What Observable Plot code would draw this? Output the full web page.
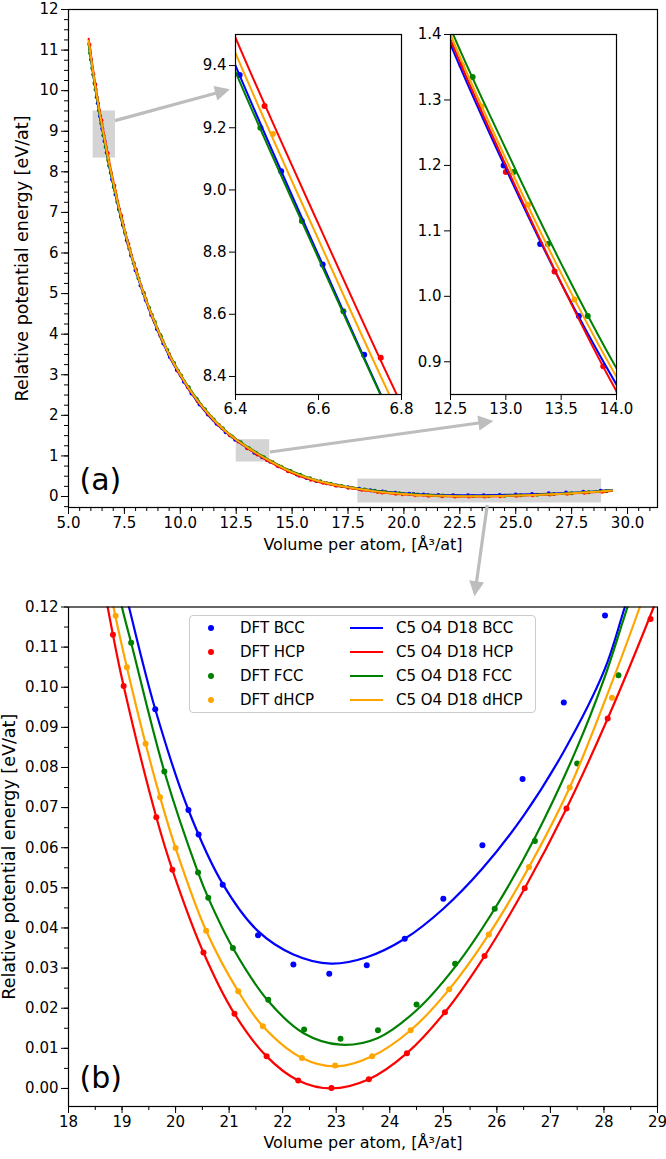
<!DOCTYPE html>
<html><head><meta charset="utf-8">
<script src="https://cdn.jsdelivr.net/npm/d3@7"></script>
<script src="https://cdn.jsdelivr.net/npm/@observablehq/plot@0.6"></script>
<style>
body{margin:0;background:#fff;}
#wrap{position:relative;width:666px;height:1159px;overflow:hidden;background:#fff;font-family:"DejaVu Sans",sans-serif;}
.lg{position:absolute;left:189px;top:615px;width:345px;height:96px;border:1px solid #cccccc;border-radius:4px;background:rgba(255,255,255,0.8);font-size:15px;color:#000;}
.lg span{position:absolute;white-space:nowrap;}
</style></head><body><div id="wrap"></div>
<script>
// ---------- data ----------
const structures = ["BCC", "HCP", "FCC", "dHCP"];
const colors = ["blue", "red", "green", "orange"];

// DFT points: volume per atom [Å^3/at] and relative energy [eV/at]
const bccV = [6.01,6.11,6.21,6.31,6.41,6.51,6.61,6.71,6.82,6.95,7.10,7.26,7.43,7.61,7.80,8.00,8.22,8.45,8.70,8.96,9.24,9.53,9.84,10.16,10.50,10.86,11.23,11.62,12.03,12.45,12.98,13.31,13.66,14.02,14.40,14.80,15.21,15.64,16.08,16.54,17.01,17.50,18.00,18.50,19.05,19.62,20.24,20.43,20.88,21.54,22.20,22.87,23.57,24.28,25.00,25.73,26.48,27.25,28.02,28.80];
const bccE = [10.76,10.40,10.03,9.69,9.37,9.06,8.76,8.47,8.15,7.81,7.44,7.07,6.69,6.31,5.94,5.57,5.20,4.84,4.47,4.12,3.77,3.44,3.12,2.83,2.54,2.27,2.02,1.79,1.585,1.40,1.20,1.08,0.97,0.855,0.745,0.64,0.54,0.455,0.385,0.325,0.27,0.225,0.188,0.155,0.124,0.0945,0.0694,0.0633,0.0508,0.0382,0.0309,0.0286,0.0307,0.0373,0.0473,0.0606,0.0771,0.0962,0.1179,0.141];
const hcpV = [5.94,6.20,6.47,6.75,7.05,7.36,7.68,8.01,8.36,8.72,9.10,9.49,9.90,10.33,10.78,11.24,11.72,12.21,12.60,13.00,13.44,13.88,14.34,14.82,15.32,15.84,16.38,16.94,17.52,18.12,18.83,19.03,19.64,19.94,20.52,21.10,21.70,22.29,22.91,23.61,24.32,25.03,25.77,26.52,27.30,28.07,28.87];
const hcpE = [11.13,10.15,9.27,8.46,7.66,6.92,6.22,5.60,5.02,4.48,3.98,3.51,3.09,2.70,2.35,2.03,1.76,1.51,1.353,1.19,1.038,0.893,0.76,0.625,0.51,0.415,0.34,0.272,0.215,0.165,0.1131,0.1003,0.0676,0.0545,0.0339,0.0186,0.0080,0.0020,0.0001,0.0023,0.0088,0.0190,0.0330,0.0499,0.0698,0.0922,0.1170];
const fccV = [5.96,6.06,6.16,6.26,6.36,6.46,6.56,6.66,6.77,6.89,7.03,7.18,7.35,7.53,7.72,7.92,8.13,8.36,8.60,8.86,9.13,9.42,9.72,10.04,10.38,10.73,11.10,11.49,11.90,12.32,12.70,13.07,13.38,13.74,14.12,14.52,14.93,15.36,15.80,16.26,16.73,17.22,17.72,18.24,18.70,19.17,19.79,20.42,20.61,21.07,21.73,22.40,23.08,23.78,24.50,25.22,25.96,26.71,27.50,28.27,29.05];
const fccE = [10.93,10.56,10.19,9.84,9.51,9.20,8.90,8.61,8.29,7.97,7.62,7.26,6.88,6.49,6.11,5.75,5.38,5.01,4.65,4.30,3.95,3.61,3.29,2.98,2.69,2.41,2.15,1.90,1.68,1.48,1.335,1.19,1.08,0.97,0.85,0.735,0.63,0.535,0.45,0.375,0.315,0.26,0.21,0.172,0.142,0.1111,0.0790,0.0538,0.0475,0.0350,0.0221,0.0147,0.0124,0.0145,0.0209,0.0311,0.0448,0.0617,0.0810,0.1030,0.131];
const dhcpV = [5.96,6.22,6.49,6.79,7.09,7.41,7.74,8.08,8.44,8.81,9.20,9.60,10.02,10.46,10.91,11.38,11.86,12.36,12.78,13.20,13.62,14.06,14.52,15.00,15.50,16.02,16.56,17.12,17.70,18.30,18.88,19.09,19.44,19.71,20.00,20.57,21.17,21.63,22.36,22.98,23.67,24.39,25.11,25.85,26.60,27.36,28.15,28.93];
const dhcpE = [11.00,10.03,9.18,8.29,7.53,6.79,6.09,5.47,4.88,4.35,3.85,3.39,2.98,2.60,2.27,1.96,1.69,1.46,1.29,1.14,0.995,0.86,0.73,0.60,0.49,0.40,0.325,0.262,0.208,0.16,0.1178,0.1050,0.0859,0.0726,0.0599,0.0393,0.0242,0.0155,0.0076,0.0057,0.0080,0.0145,0.0247,0.0384,0.0552,0.0750,0.0974,0.124];

// C5 O4 D18 fitted curves (knots)
const bccFitV = [5.9,6.0,6.2,6.4,6.6,6.8,7.0,7.5,8.0,8.5,9.0,9.5,10.0,10.5,11.0,11.5,12.0,12.5,13.0,13.5,14.0,15.0,16.0,17.0,18.0,18.6,19.13,19.62,20.24,20.88,21.54,22.20,22.90,23.57,24.28,25.00,25.73,26.50,27.25,28.00,28.39,29.3];
const bccFitE = [11.18,10.80,10.06,9.40,8.79,8.20,7.68,6.53,5.57,4.76,4.07,3.47,2.97,2.54,2.17,1.85,1.60,1.385,1.195,1.02,0.865,0.59,0.40,0.275,0.188,0.150,0.120,0.0945,0.0694,0.0510,0.0392,0.0334,0.0311,0.0327,0.0373,0.0448,0.0548,0.0680,0.0840,0.1040,0.120,0.160];
const hcpFitV = [5.9,6.0,6.2,6.4,6.6,6.8,7.0,7.5,8.0,8.5,9.0,9.5,10.0,10.5,11.0,11.5,12.0,12.5,13.0,13.5,14.0,15.0,16.0,17.0,18.0,18.83,19.03,19.64,19.94,20.52,21.10,21.70,22.29,22.91,23.61,24.32,25.03,25.77,26.52,27.30,28.07,28.93,29.3];
const hcpFitE = [11.28,10.90,10.15,9.49,8.89,8.31,7.78,6.60,5.62,4.80,4.10,3.50,2.99,2.56,2.19,1.87,1.61,1.392,1.20,1.02,0.855,0.58,0.39,0.265,0.175,0.1131,0.1003,0.0676,0.0545,0.0339,0.0186,0.0080,0.0020,0.0000,0.0023,0.0088,0.0190,0.0330,0.0499,0.0698,0.0922,0.1200,0.1330];
const fccFitV = [5.9,6.0,6.2,6.4,6.6,6.8,7.0,7.5,8.0,8.5,9.0,9.5,10.0,10.5,11.0,11.5,12.0,12.5,13.0,13.5,14.0,15.0,16.0,17.0,18.0,18.6,18.98,19.17,19.79,20.42,20.61,21.07,21.73,22.40,23.08,23.78,24.50,25.22,25.96,26.71,27.50,28.00,28.44,29.3];
const fccFitE = [11.15,10.78,10.04,9.38,8.78,8.20,7.69,6.55,5.60,4.80,4.12,3.52,3.02,2.59,2.22,1.90,1.635,1.41,1.225,1.05,0.89,0.615,0.415,0.285,0.19,0.147,0.121,0.1111,0.0790,0.0538,0.0475,0.0350,0.0218,0.0137,0.0109,0.0126,0.0195,0.0303,0.0448,0.0625,0.0850,0.1020,0.120,0.155];
const dhcpFitV = [5.9,6.0,6.2,6.4,6.6,6.8,7.0,7.5,8.0,8.5,9.0,9.5,10.0,10.5,11.0,11.5,12.0,12.5,13.0,13.5,14.0,15.0,16.0,17.0,18.0,18.5,18.84,19.09,19.44,19.71,20.00,20.57,21.17,21.63,22.36,23.00,23.67,24.39,25.11,25.85,26.60,27.36,28.04,28.67,29.3];
const dhcpFitE = [11.23,10.85,10.10,9.44,8.84,8.26,7.74,6.57,5.60,4.79,4.10,3.50,3.00,2.57,2.20,1.885,1.62,1.40,1.21,1.035,0.877,0.60,0.405,0.275,0.183,0.145,0.120,0.1050,0.0859,0.0726,0.0599,0.0393,0.0242,0.0155,0.0076,0.0055,0.0080,0.0145,0.0247,0.0384,0.0552,0.0750,0.0974,0.120,0.145];

// tick values
const aXTicks = [5, 7.5, 10, 12.5, 15, 17.5, 20, 22.5, 25, 27.5, 30];
const aYTicks = [0,1,2,3,4,5,6,7,8,9,10,11,12];
const in1XTicks = [6.4, 6.6, 6.8];
const in1YTicks = [8.4, 8.6, 8.8, 9.0, 9.2, 9.4];
const in2XTicks = [12.5, 13.0, 13.5, 14.0];
const in2YTicks = [0.9, 1.0, 1.1, 1.2, 1.3, 1.4];
const bXTicks = [18,19,20,21,22,23,24,25,26,27,28,29];
const bYTicks = [0,0.01,0.02,0.03,0.04,0.05,0.06,0.07,0.08,0.09,0.10,0.11,0.12];

// zoom boxes in panel (a) and connecting arrows (data coordinates of panel a)
const boxV1 = [6.1, 12.5, 17.94], boxV2 = [7.1, 14.0, 28.84];
const boxE1 = [8.34, 0.85, -0.16], boxE2 = [9.5, 1.4, 0.43];
const arrowFromV = [7.10, 14.03, 23.75], arrowFromE = [9.25, 1.085, -0.22];
const arrowToV = [12.24, 24.02, 23.18], arrowToE = [10.02, 1.85, -2.47];

const legendDFT = ["DFT BCC", "DFT HCP", "DFT FCC", "DFT dHCP"];
const legendFit = ["C5 O4 D18 BCC", "C5 O4 D18 HCP", "C5 O4 D18 FCC", "C5 O4 D18 dHCP"];
const xLabel = "Volume per atom, [Å³/at]";
const yLabel = "Relative potential energy [eV/at]";

// ---------- build tables ----------
const sets = [
  {s: "BCC", v: bccV, e: bccE, fv: bccFitV, fe: bccFitE},
  {s: "HCP", v: hcpV, e: hcpE, fv: hcpFitV, fe: hcpFitE},
  {s: "FCC", v: fccV, e: fccE, fv: fccFitV, fe: fccFitE},
  {s: "dHCP", v: dhcpV, e: dhcpE, fv: dhcpFitV, fe: dhcpFitE}
];
const dft = sets.flatMap(o => o.v.map((v, i) => ({s: o.s, V: v, E: o.e[i]})));
const fit = sets.flatMap(o => o.fv.map((v, i) => ({s: o.s, V: v, E: o.fe[i]})));
const boxes = boxV1.map((v, i) => ({x1: v, x2: boxV2[i], y1: boxE1[i], y2: boxE2[i]}));

const FONT = "DejaVu Sans, sans-serif";
const TICK = 15, XLAB = 16, YLAB = 17.5;
const colorScale = {domain: structures, range: colors};
const baseStyle = {background: "transparent", fontFamily: FONT, fontSize: "15px", overflow: "visible", color: "black"};
const fmt1 = d3.format(".1f"), fmt2 = d3.format(".2f"), fmt0 = d3.format("d");
const empty = () => "";

const wrap = document.getElementById("wrap");
function place(el, left, top) {
  el.style.position = "absolute";
  el.style.left = left + "px";
  el.style.top = top + "px";
  wrap.appendChild(el);
  return el;
}

// ---------- panel (b) ----------
const plotB = Plot.plot({
  width: 666, height: 599,
  marginLeft: 68, marginRight: 9, marginTop: 46.5, marginBottom: 53,
  style: baseStyle,
  color: colorScale,
  x: {domain: [18, 29]},
  y: {domain: [-0.0045, 0.12]},
  marks: [
    Plot.dot(dft, {x: "V", y: "E", fill: "s", r: 3, clip: true}),
    Plot.line(fit, {x: "V", y: "E", z: "s", stroke: "s", strokeWidth: 2.2, curve: "catmull-rom", clip: true}),
    Plot.frame({stroke: "black", strokeWidth: 1.2}),
    Plot.axisX(d3.range(18, 29.01, 0.5), {tickSize: 4, tickFormat: empty, label: null}),
    Plot.axisX(bXTicks, {tickSize: 7, tickPadding: 3, tickFormat: fmt0, fontSize: TICK, label: null}),
    Plot.axisY(d3.range(0, 0.1201, 0.005), {tickSize: 4, tickFormat: empty, label: null}),
    Plot.axisY(bYTicks, {tickSize: 7, tickPadding: 3, tickFormat: fmt2, fontSize: TICK, label: null}),
    Plot.text([xLabel], {frameAnchor: "bottom", dy: 41, fontSize: XLAB}),
    Plot.text([yLabel], {frameAnchor: "left", textAnchor: "middle", dx: -59, rotate: -90, fontSize: YLAB}),
    Plot.text(["(b)"], {frameAnchor: "bottom-left", dx: 11, dy: -19, textAnchor: "start", fontSize: 30})
  ]
});
place(plotB, 0, 560);

// ---------- panel (a) ----------
const plotA = Plot.plot({
  width: 666, height: 560,
  marginLeft: 68, marginRight: 9, marginTop: 9, marginBottom: 53,
  style: baseStyle,
  color: colorScale,
  x: {domain: [5, 31.34]},
  y: {domain: [-0.271, 12]},
  marks: [
    Plot.rect(boxes, {x1: "x1", x2: "x2", y1: "y1", y2: "y2", fill: "#d4d4d4"}),
    Plot.dot(dft, {x: "V", y: "E", fill: "s", r: 2}),
    Plot.line(fit, {x: "V", y: "E", z: "s", stroke: "s", strokeWidth: 2, curve: "catmull-rom"}),
    Plot.frame({stroke: "black", strokeWidth: 1.2}),
    Plot.axisX(d3.range(5, 31.01, 0.5), {tickSize: 4, tickFormat: empty, label: null}),
    Plot.axisX(aXTicks, {tickSize: 7, tickPadding: 3, tickFormat: fmt1, fontSize: TICK, label: null}),
    Plot.axisY(d3.range(-0.25, 12.01, 0.25), {tickSize: 4, tickFormat: empty, label: null}),
    Plot.axisY(aYTicks, {tickSize: 7, tickPadding: 3, tickFormat: fmt0, fontSize: TICK, label: null}),
    Plot.text([xLabel], {frameAnchor: "bottom", dy: 42, fontSize: XLAB}),
    Plot.text([yLabel], {frameAnchor: "left", textAnchor: "middle", dx: -46, rotate: -90, fontSize: YLAB}),
    Plot.text(["(a)"], {frameAnchor: "bottom-left", dx: 11, dy: -18, textAnchor: "start", fontSize: 30})
  ]
});
place(plotA, 0, 0);

// ---------- arrows (positions from panel a scales) ----------
const sx = plotA.scale("x"), sy = plotA.scale("y");
const ov = d3.create("svg").attr("width", 666).attr("height", 1159)
  .style("position", "absolute").style("left", "0px").style("top", "0px").style("pointer-events", "none");
arrowFromV.forEach((_, i) => {
  const x0 = sx.apply(arrowFromV[i]), y0 = sy.apply(arrowFromE[i]);
  const x1 = sx.apply(arrowToV[i]), y1 = sy.apply(arrowToE[i]);
  const dx = x1 - x0, dy = y1 - y0, L = Math.hypot(dx, dy), ux = dx / L, uy = dy / L;
  const hl = 15, hw = 7.5;
  const bx = x1 - ux * hl, by = y1 - uy * hl;
  ov.append("line").attr("x1", x0).attr("y1", y0).attr("x2", bx + ux * 2).attr("y2", by + uy * 2)
    .attr("stroke", "#bdbdbd").attr("stroke-width", 3.2);
  ov.append("path").attr("d", `M${x1},${y1}L${bx - uy * hw},${by + ux * hw}L${bx + uy * hw},${by - ux * hw}Z`)
    .attr("fill", "#bdbdbd");
});
wrap.appendChild(ov.node());

// ---------- insets ----------
function inset(xd, yd, xt, yt) {
  return Plot.plot({
    width: 226, height: 406,
    marginLeft: 50, marginRight: 10, marginTop: 10, marginBottom: 36,
    style: baseStyle,
    color: colorScale,
    x: {domain: xd},
    y: {domain: yd},
    marks: [
      Plot.frame({fill: "white"}),
      Plot.dot(dft, {x: "V", y: "E", fill: "s", r: 3, clip: true}),
      Plot.line(fit, {x: "V", y: "E", z: "s", stroke: "s", strokeWidth: 2, curve: "catmull-rom", clip: true}),
      Plot.frame({stroke: "black", strokeWidth: 1.2}),
      Plot.axisX(xt, {tickSize: 6, tickPadding: 3, tickFormat: fmt1, fontSize: TICK, label: null}),
      Plot.axisY(yt, {tickSize: 6, tickPadding: 3, tickFormat: fmt1, fontSize: TICK, label: null})
    ]
  });
}
place(inset([6.4, 6.8], [8.342, 9.5], in1XTicks, in1YTicks), 185, 24);
place(inset([12.5, 14.0], [0.85, 1.4], in2XTicks, in2YTicks), 400, 24);

// ---------- legend of panel (b) ----------
const lg = document.createElement("div");
lg.className = "lg";
colors.forEach((c, i) => {
  const cy = 12 + 24 * i;
  const dot = document.createElement("span");
  Object.assign(dot.style, {left: "18px", top: (cy - 3) + "px", width: "6px", height: "6px", borderRadius: "50%", background: c});
  const t1 = document.createElement("span");
  t1.textContent = legendDFT[i];
  Object.assign(t1.style, {left: "50px", top: (cy - 9) + "px", lineHeight: "18px"});
  const ln = document.createElement("span");
  Object.assign(ln.style, {left: "160px", top: (cy - 1) + "px", width: "33px", height: "2.2px", background: c});
  const t2 = document.createElement("span");
  t2.textContent = legendFit[i];
  Object.assign(t2.style, {left: "206px", top: (cy - 9) + "px", lineHeight: "18px"});
  lg.append(dot, t1, ln, t2);
});
wrap.appendChild(lg);
</script></body></html>
